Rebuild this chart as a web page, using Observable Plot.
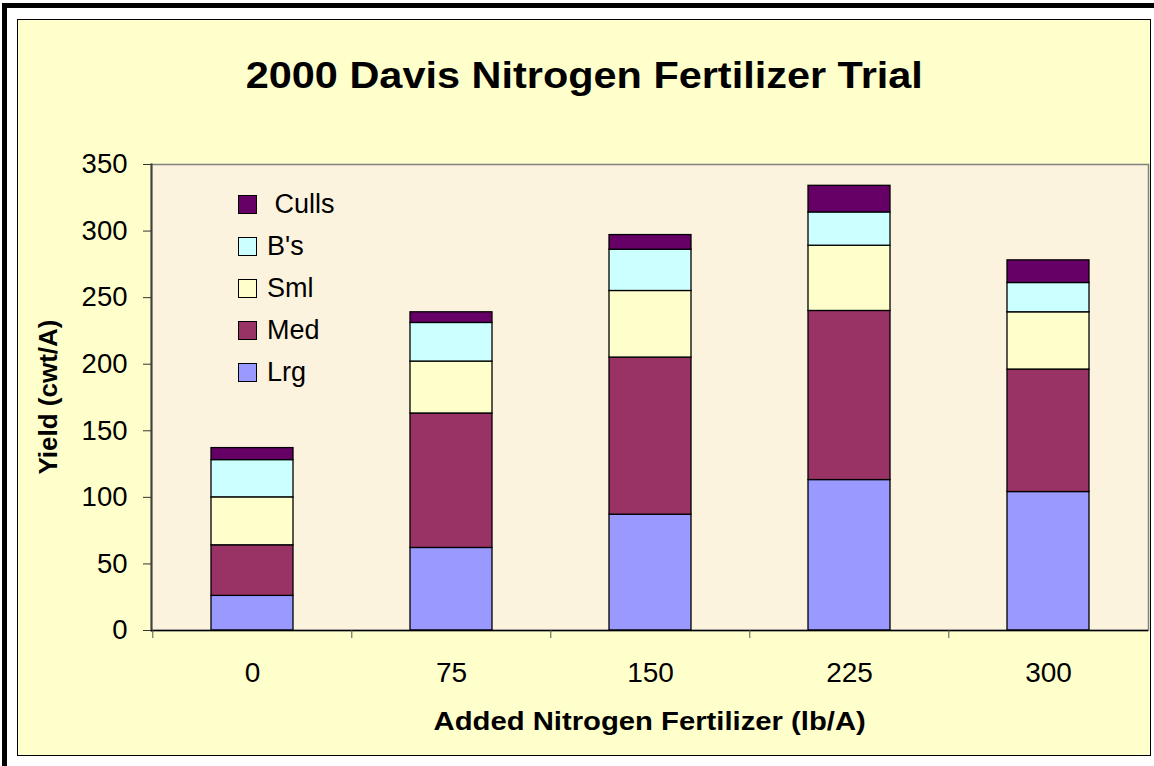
<!DOCTYPE html>
<html>
<head>
<meta charset="utf-8">
<script src="https://cdn.jsdelivr.net/npm/d3@7"></script>
<script src="https://cdn.jsdelivr.net/npm/@observablehq/plot@0.6"></script>
<style>
  html, body { margin: 0; padding: 0; background: #ffffff; }
  #wrap { position: relative; width: 1154px; height: 766px; overflow: hidden; font-family: "Liberation Sans", Arial, sans-serif; }
  #outer { position: absolute; left: 2px; top: 3px; width: 1180px; height: 800px; border: 5px solid #000; box-sizing: border-box; }
  #frame { position: absolute; left: 17px; top: 19px; width: 1134px; height: 737px; box-sizing: border-box; border: 1px solid #000; background: #FFFFCC; }
  #chart { position: absolute; left: 0; top: 0; }
  .title { position: absolute; left: 17px; width: 1134px; text-align: center; font-weight: bold; color: #000; white-space: nowrap; }
  .title span { display: inline-block; transform-origin: center; }
  #ytitle { position: absolute; width: 400px; height: 26px; line-height: 26px; font-size: 26px; font-weight: bold; text-align: center; transform: rotate(-90deg); transform-origin: center; white-space: nowrap; }
  #legend { position: absolute; left: 238px; top: 183px; }
  .lrow { display: flex; align-items: center; height: 42px; font-size: 27px; }
  .sw { width: 17px; height: 17px; border: 1px solid #000; margin-right: 10px; }
</style>
</head>
<body>
<div id="wrap">
  <div id="outer"></div>
  <div id="frame"></div>
  <div id="chart"></div>
  <div class="title" id="maintitle" style="top:57px;font-size:37px;line-height:37px;"><span style="transform:scaleX(1.12)"></span></div>
  <div class="title" id="xtitle" style="left:151px;width:997px;top:709px;font-size:25px;line-height:25px;"><span style="transform:scaleX(1.17)"></span></div>
  <div id="ytitle"></div>
  <div id="legend"></div>
</div>
<script>
const chartTitle = "2000 Davis Nitrogen Fertilizer Trial";
const xTitle = "Added Nitrogen Fertilizer (lb/A)";
const yTitle = "Yield (cwt/A)";

const categories = ["0", "75", "150", "225", "300"];
const series = ["Lrg", "Med", "Sml", "B's", "Culls"];
const lrg   = [26, 62, 87, 113, 104];
const med   = [38, 101, 118, 127, 92];
const sml   = [36, 39, 50, 49, 43];
const bs    = [28, 29, 31, 25, 22];
const culls = [9, 8, 11, 20, 17];
const seriesColors = ["#9999FF", "#993366", "#FFFFCC", "#CCFFFF", "#660066"];
const yTicks = [0, 50, 100, 150, 200, 250, 300, 350];
const legendOrder = ["Culls", "B's", "Sml", "Med", "Lrg"];

const values = [lrg, med, sml, bs, culls];
const data = series.flatMap((s, si) => categories.map((c, ci) => ({n: c, series: s, value: values[si][ci]})));

const W = 1154, H = 766, ML = 151, MR = 6, MT = 164, MB = 136;
const step = (W - ML - MR) / categories.length;

const plot = Plot.plot({
  width: W,
  height: H,
  marginLeft: ML,
  marginRight: MR,
  marginTop: MT,
  marginBottom: MB,
  style: {background: "transparent", fontFamily: "'Liberation Sans', Arial, sans-serif", color: "#000", overflow: "visible"},
  x: {domain: categories, paddingInner: 0.59, paddingOuter: 0.295, label: null},
  y: {domain: [0, 350], label: null},
  color: {domain: series, range: seriesColors},
  marks: [
    Plot.frame({fill: "#FCF3DF", stroke: "#808080", strokeWidth: 1.5}),
    Plot.barY(data, {x: "n", y: "value", fill: "series", order: series, stroke: "#000", strokeWidth: 1.3}),
    Plot.frame({anchor: "left", stroke: "#404040", strokeWidth: 2}),
    Plot.ruleY([0], {stroke: "#000", strokeWidth: 1.5}),
    Plot.axisY({ticks: yTicks, tickSize: 8, tickPadding: 16, fontSize: 27.5, label: null, stroke: "#333"}),
    Plot.axisX({tickSize: 0, tickPadding: 32, fontSize: 28, label: null}),
    Plot.axisX({tickSize: 8, tickFormat: () => "", dx: -step / 2, label: null, stroke: "#555"})
  ]
});
document.getElementById("chart").appendChild(plot);

document.querySelector("#maintitle span").textContent = chartTitle;
document.querySelector("#xtitle span").textContent = xTitle;
const yt = document.getElementById("ytitle");
yt.textContent = yTitle;
yt.style.left = (48 - 200) + "px";
yt.style.top = (397 - 13) + "px";

const legend = document.getElementById("legend");
for (const s of legendOrder) {
  const row = document.createElement("div");
  row.className = "lrow";
  const sw = document.createElement("div");
  sw.className = "sw";
  sw.style.background = seriesColors[series.indexOf(s)];
  const label = document.createElement("span");
  label.textContent = s === "Culls" ? "\u00A0" + s : s;
  row.appendChild(sw);
  row.appendChild(label);
  legend.appendChild(row);
}
</script>
</body>
</html>
